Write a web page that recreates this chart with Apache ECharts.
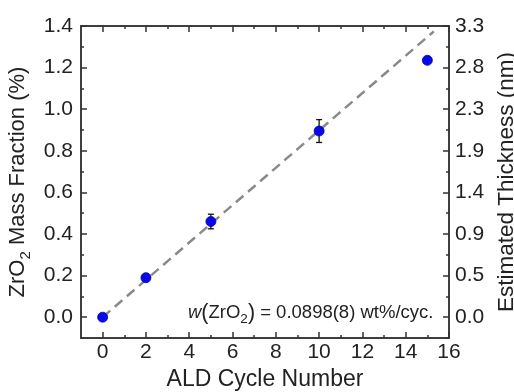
<!DOCTYPE html>
<html>
<head>
<meta charset="utf-8">
<script src="https://cdn.jsdelivr.net/npm/echarts@6/dist/echarts.min.js"></script>
<style>html,body{margin:0;padding:0;background:#fff}#c{width:514px;height:392px}</style>
</head>
<body>
<div id="c"></div>
<script>
// ---- data ----
const cycles = [0, 2, 5, 10, 15];
const massFraction = [0.0, 0.19, 0.46, 0.895, 1.235];
const massError = [0, 0.005, 0.035, 0.055, 0];
const fitX = [0, 15.3];
const fitY = [0, 1.374];
const xTicks = [0, 2, 4, 6, 8, 10, 12, 14, 16];
const xMinorTicks = [1, 3, 5, 7, 9, 11, 13, 15];
const yTicks = [0, 0.2, 0.4, 0.6, 0.8, 1.0, 1.2, 1.4];
const yMinorTicks = [-0.1, 0.1, 0.3, 0.5, 0.7, 0.9, 1.1, 1.3];
const thicknessLabels = ['0.0', '0.5', '0.9', '1.4', '1.9', '2.3', '2.8', '3.3'];

const FONT = 'Liberation Sans, Arial, sans-serif';
const TXT = '#222';
const LINE = {show: true, onZero: false, lineStyle: {color: '#333', width: 1.5}};

function xAx(pos, ticks, len, labels, extra) {
  return Object.assign({
    type: 'value', min: -1, max: 16, position: pos,
    axisLine: LINE,
    axisTick: {show: true, inside: true, length: len, customValues: ticks, lineStyle: {color: '#333', width: 1.5}},
    axisLabel: labels ? {show: true, customValues: ticks, fontSize: 21, color: TXT, fontFamily: FONT, margin: 4} : {show: false},
    splitLine: {show: false}
  }, extra || {});
}
function yAx(pos, ticks, len, labels, extra) {
  return Object.assign({
    type: 'value', min: -0.1, max: 1.4, position: pos,
    axisLine: LINE,
    axisTick: {show: true, inside: true, length: len, customValues: ticks, lineStyle: {color: '#333', width: 1.5}},
    axisLabel: labels ? Object.assign({show: true, customValues: ticks, fontSize: 21, color: TXT, fontFamily: FONT}, labels) : {show: false},
    splitLine: {show: false}
  }, extra || {});
}

const nameStyle = {
  fontSize: 22, color: TXT, fontFamily: FONT,
  rich: {
    n: {fontSize: 22, color: TXT, fontFamily: FONT, lineHeight: 22, padding: [0, 0, 4, 0], verticalAlign: 'bottom'},
    s: {fontSize: 15, color: TXT, fontFamily: FONT, lineHeight: 15, verticalAlign: 'bottom'}
  }
};

const chart = echarts.init(document.getElementById('c'), null, {renderer: 'canvas'});
chart.setOption({
  animation: false,
  backgroundColor: '#fff',
  grid: {left: 81, right: 65, top: 26, bottom: 54, containLabel: false, outerBoundsMode: 'none'},
  xAxis: [
    xAx('bottom', xTicks, 6, true, {
      name: 'ALD Cycle Number', nameLocation: 'middle', nameGap: 25,
      nameTextStyle: {fontSize: 23, color: TXT, fontFamily: FONT}
    }),
    xAx('top', xTicks, 6, false),
    xAx('bottom', xMinorTicks, 3, false),
    xAx('top', xMinorTicks, 3, false)
  ],
  yAxis: [
    yAx('left', yTicks, 6, {margin: 8, formatter: v => v.toFixed(1)}, {
      name: '{n|ZrO}{s|2}{n| Mass Fraction (%)}', nameLocation: 'middle', nameGap: 42, nameRotate: 90,
      nameTextStyle: nameStyle
    }),
    yAx('right', yTicks, 6, {margin: 6, formatter: v => thicknessLabels[Math.round(v / 0.2)]}, {
      name: 'Estimated Thickness (nm)', nameLocation: 'middle', nameGap: 42, nameRotate: 90,
      nameTextStyle: {fontSize: 22.5, color: TXT, fontFamily: FONT}
    }),
    yAx('left', yMinorTicks, 3, false),
    yAx('right', yMinorTicks, 3, false)
  ],
  series: [
    {
      type: 'line', xAxisIndex: 0, yAxisIndex: 0,
      data: fitX.map((x, i) => [x, fitY[i]]),
      showSymbol: false, symbol: 'none', z: 2,
      lineStyle: {color: '#8a8a8a', width: 2.5, type: [10, 6]}
    },
    {
      type: 'custom', xAxisIndex: 0, yAxisIndex: 0, z: 3,
      data: cycles.map((x, i) => [x, massFraction[i], massError[i]]),
      renderItem: function (params, api) {
        const x = api.value(0), y = api.value(1), e = api.value(2);
        if (!e) return null;
        const t = api.coord([x, y + e]), b = api.coord([x, y - e]);
        const st = {stroke: '#111', lineWidth: 1.3};
        return {type: 'group', children: [
          {type: 'line', shape: {x1: t[0], y1: t[1], x2: b[0], y2: b[1]}, style: st},
          {type: 'line', shape: {x1: t[0] - 3, y1: t[1], x2: t[0] + 3, y2: t[1]}, style: st},
          {type: 'line', shape: {x1: b[0] - 3, y1: b[1], x2: b[0] + 3, y2: b[1]}, style: st}
        ]};
      }
    },
    {
      type: 'scatter', xAxisIndex: 0, yAxisIndex: 0, z: 4,
      data: cycles.map((x, i) => [x, massFraction[i]]),
      symbol: 'circle', symbolSize: 10,
      itemStyle: {color: '#0808e8', opacity: 1, borderColor: '#0000a8', borderWidth: 0.8}
    }
  ],
  graphic: [{
    type: 'text', left: 188, top: 302, z: 10,
    style: {
      text: '{i|w}{p|(}{t|ZrO}{s|2}{p|)}{t| = 0.0898(8) wt%/cyc.}',
      fill: TXT, font: '18.5px ' + FONT,
      rich: {
        i: {fontSize: 18.5, fontStyle: 'italic', fill: TXT, fontFamily: FONT, lineHeight: 20, verticalAlign: 'bottom', padding: [0, 0, 4, 0]},
        p: {fontSize: 21.5, fill: TXT, fontFamily: FONT, lineHeight: 22, verticalAlign: 'bottom', padding: [0, 0, 2, 0]},
        t: {fontSize: 18.5, fill: TXT, fontFamily: FONT, lineHeight: 20, verticalAlign: 'bottom', padding: [0, 0, 4, 0]},
        s: {fontSize: 13.5, fill: TXT, fontFamily: FONT, lineHeight: 13, verticalAlign: 'bottom'}
      }
    }
  }]
});
</script>
</body>
</html>
